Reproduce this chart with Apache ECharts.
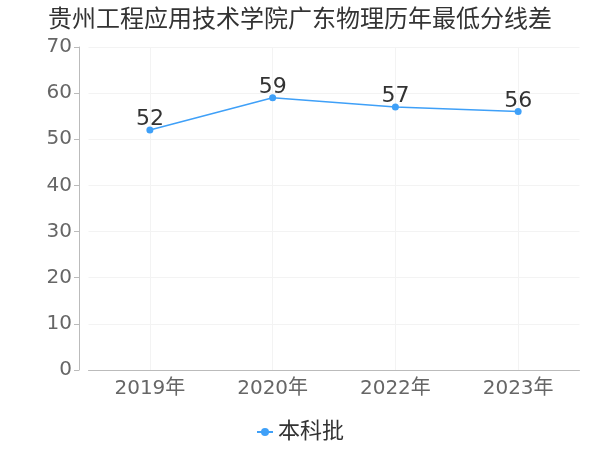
<!DOCTYPE html>
<html><head><meta charset="utf-8">
<script src="https://cdn.jsdelivr.net/npm/echarts@6/dist/echarts.min.js"></script>
<style>html,body{margin:0;padding:0;}#c{width:600px;height:450px;}</style>
</head><body><div id="c"></div>
<script>
var categories = ['2019年', '2020年', '2022年', '2023年'];
var values = [52, 59, 57, 56];
var seriesName = '本科批';
var FONT = 'DejaVu Sans, Noto Sans CJK SC';
var chart = echarts.init(document.getElementById('c'));
chart.setOption({
  backgroundColor: '#fff',
  title: { text: '贵州工程应用技术学院广东物理历年最低分线差', left: 'center', top: 4,
    textStyle: { fontSize: 24, fontWeight: 'normal', color: '#333', fontFamily: FONT } },
  grid: { left: 88.5, right: 20.5, top: 47, bottom: 80 },
  legend: { bottom: 2, left: 'center', itemWidth: 16, itemHeight: 10, itemGap: 4,
    textStyle: { fontSize: 22, color: '#333', fontFamily: FONT }, data: [seriesName] },
  xAxis: { type: 'category', data: categories, boundaryGap: true,
    axisLine: { lineStyle: { color: '#bbb' } },
    axisTick: { alignWithLabel: true, lineStyle: { color: '#bbb' } },
    axisLabel: { fontSize: 20, color: '#666', margin: 9, fontFamily: FONT },
    splitLine: { show: true, alignWithLabel: true, lineStyle: { color: '#f3f3f3' } } },
  yAxis: { type: 'value', min: 0, max: 70, interval: 10, offset: 9.5,
    axisLine: { show: true, lineStyle: { color: '#bbb' } },
    axisTick: { show: true, lineStyle: { color: '#bbb' } },
    axisLabel: { fontSize: 20, color: '#666', margin: 7, fontFamily: FONT },
    splitLine: { lineStyle: { color: '#f3f3f3' } } },
  series: [{ name: seriesName, type: 'line', data: values, symbol: 'circle', symbolSize: 7,
    itemStyle: { color: '#3fa0f8' }, lineStyle: { width: 1.5, color: '#3fa0f8' },
    label: { show: true, position: 'top', fontSize: 22, color: '#333', distance: -4, fontFamily: FONT } }]
});
</script></body></html>
